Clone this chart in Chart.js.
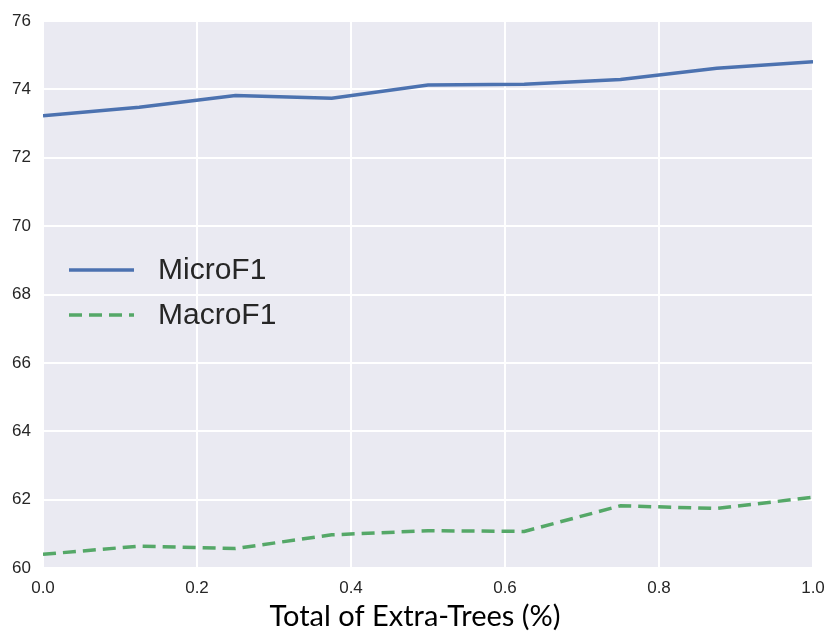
<!DOCTYPE html>
<html>
<head>
<meta charset="utf-8">
<script src="https://cdn.jsdelivr.net/npm/chart.js@4/dist/chart.umd.min.js"></script>
<style>
  html, body { margin: 0; padding: 0; background: #fff; }
  #wrap { width: 830px; height: 634px; position: relative; }
</style>
</head>
<body>
<div id="wrap"><canvas id="chart" width="830" height="634"></canvas></div>
<script>
const xValues = [0, 0.125, 0.25, 0.375, 0.5, 0.625, 0.75, 0.875, 1.0];
const microF1 = [73.23, 73.48, 73.82, 73.74, 74.13, 74.15, 74.29, 74.62, 74.81];
const macroF1 = [60.40, 60.64, 60.57, 60.97, 61.09, 61.07, 61.82, 61.74, 62.07];
const seriesNames = ["MicroF1", "MacroF1"];
const xTitle = "Total of Extra-Trees (%)";

const tickFont = { family: "'Liberation Sans', Arial, sans-serif", size: 17 };

// legend drawn inside the plot area, like the matplotlib one
const insideLegend = {
  id: "insideLegend",
  afterDatasetsDraw(chart) {
    const ctx = chart.ctx;
    const area = chart.chartArea;
    const x0 = area.left + 26;
    let y = 270;
    ctx.save();
    chart.data.datasets.forEach(ds => {
      ctx.strokeStyle = ds.borderColor;
      ctx.lineWidth = ds.borderWidth;
      ctx.setLineDash(ds.borderDash || []);
      ctx.beginPath();
      ctx.moveTo(x0, y);
      ctx.lineTo(x0 + 65, y);
      ctx.stroke();
      ctx.setLineDash([]);
      ctx.fillStyle = "#262626";
      ctx.font = "30px 'Liberation Sans', Arial, sans-serif";
      ctx.textBaseline = "middle";
      ctx.fillText(ds.label, x0 + 89, y + 1);
      y += 45;
    });
    ctx.restore();
  }
};

// x title is centred on the whole figure, not on the axes
const figTitle = {
  id: "figTitle",
  afterDraw(chart) {
    const ctx = chart.ctx;
    ctx.save();
    ctx.fillStyle = "#000";
    ctx.font = "29px Lato, 'Open Sans', sans-serif";
    ctx.textAlign = "center";
    ctx.textBaseline = "middle";
    ctx.fillText(xTitle, chart.width / 2, 617);
    ctx.restore();
  }
};

const bgPlugin = {
  id: "bgPlugin",
  beforeDraw(chart) {
    const a = chart.chartArea;
    chart.ctx.save();
    chart.ctx.fillStyle = "#EAEAF2";
    chart.ctx.fillRect(a.left, a.top, a.right - a.left, a.bottom - a.top);
    chart.ctx.restore();
  }
};

new Chart(document.getElementById("chart"), {
  type: "line",
  data: {
    datasets: [
      {
        label: seriesNames[0],
        data: xValues.map((x, i) => ({ x: x, y: microF1[i] })),
        borderColor: "#4C72B0",
        borderWidth: 3.5,
        pointRadius: 0,
        tension: 0
      },
      {
        label: seriesNames[1],
        data: xValues.map((x, i) => ({ x: x, y: macroF1[i] })),
        borderColor: "#55A868",
        borderWidth: 3.5,
        borderDash: [13, 7],
        pointRadius: 0,
        tension: 0
      }
    ]
  },
  options: {
    responsive: false,
    animation: false,
    layout: { padding: { top: 21, right: 17, left: 0, bottom: 0 } },
    plugins: {
      legend: { display: false },
      tooltip: { enabled: false }
    },
    scales: {
      x: {
        type: "linear",
        min: 0,
        max: 1,
        afterFit: s => { s.height = 66; s.paddingLeft = 0; s.paddingRight = 0; },
        grid: { color: "#ffffff", lineWidth: 2, drawTicks: false },
        border: { display: false },
        ticks: {
          stepSize: 0.2,
          padding: 10,
          color: "#262626",
          font: tickFont,
          callback: v => v.toFixed(1)
        }
      },
      y: {
        min: 60,
        max: 76,
        afterFit: s => { s.width = 43; s.paddingTop = 0; s.paddingBottom = 0; },
        grid: { color: "#ffffff", lineWidth: 2, drawTicks: false },
        border: { display: false },
        ticks: {
          stepSize: 2,
          padding: 12,
          color: "#262626",
          font: tickFont
        }
      }
    }
  },
  plugins: [bgPlugin, insideLegend, figTitle]
});
</script>
</body>
</html>
